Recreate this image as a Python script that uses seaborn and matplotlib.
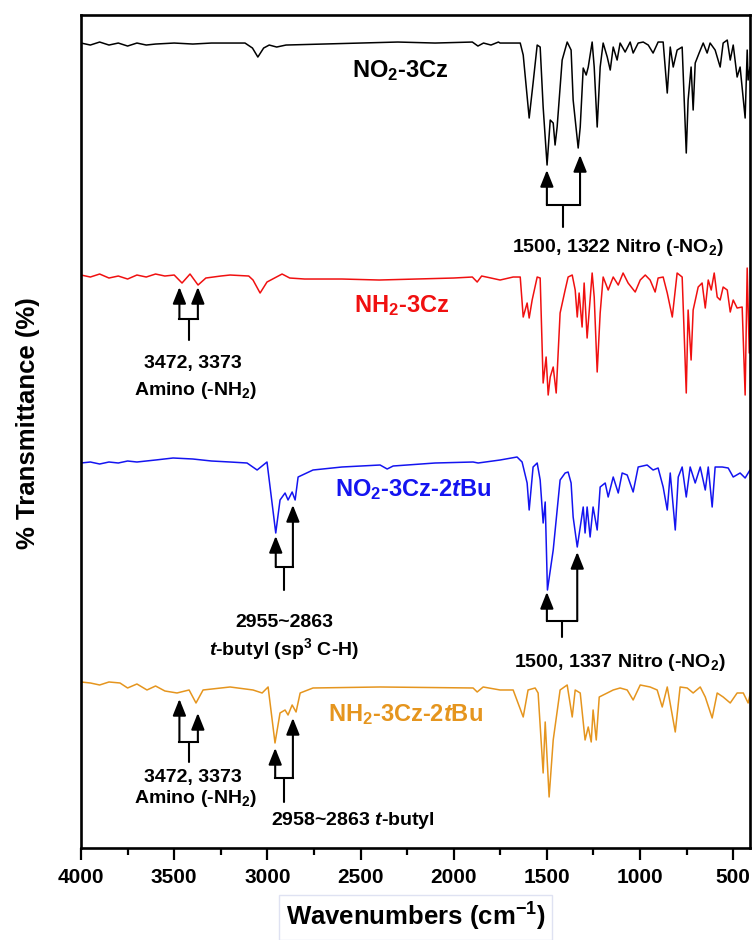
import numpy as np
import pandas as pd
import seaborn as sns
import matplotlib.pyplot as plt

# FTIR spectra (wavenumber cm-1, offset transmittance a.u.)
wn_no2 = [4000, 3950, 3900, 3850, 3800, 3750, 3700, 3650, 3600, 3500, 3400, 3300, 3200, 3120, 3080, 3051,
          3020, 2990, 2950, 2900, 2700, 2500, 2300, 2100, 1900, 1870, 1840, 1800, 1760, 1751, 1643, 1627,
          1595, 1574, 1552, 1536, 1520, 1499, 1482, 1466, 1456, 1445, 1418, 1391, 1370, 1359, 1332, 1321,
          1305, 1289, 1278, 1257, 1246, 1230, 1214, 1198, 1176, 1160, 1144, 1123, 1107, 1080, 1053, 1037,
          1010, 983, 956, 930, 903, 876, 854, 838, 822, 801, 774, 752, 742, 726, 715, 704, 683, 661, 640,
          624, 597, 570, 554, 532, 516, 500, 479, 463, 436, 425, 420, 410]
t_no2 = [805, 803, 806, 803, 805, 802, 805, 803, 804, 805, 804, 805, 805, 805, 800, 791,
         800, 803, 801, 803, 804, 805, 806, 805, 806, 802, 805, 803, 806, 805, 805, 793,
         730, 765, 803, 801, 741, 683, 728, 725, 703, 721, 788, 806, 798, 748, 700, 721,
         780, 773, 781, 806, 781, 721, 781, 805, 791, 778, 801, 788, 805, 796, 806, 795,
         805, 806, 803, 795, 806, 806, 755, 801, 781, 798, 801, 695, 748, 781, 738, 785, 795, 805, 795,
         805, 798, 781, 805, 808, 788, 803, 771, 781, 730, 798, 768, 781]

wn_nh2 = [4000, 3950, 3900, 3850, 3800, 3750, 3700, 3650, 3600, 3550, 3500, 3458, 3415, 3372, 3330, 3250,
          3200, 3100, 3077, 3039, 3002, 2921, 2880, 2800, 2600, 2400, 2200, 2000, 1900, 1874, 1850, 1800,
          1751, 1681, 1643, 1627, 1606, 1595, 1579, 1552, 1536, 1520, 1504, 1493, 1482, 1466, 1450, 1429,
          1402, 1386, 1364, 1348, 1337, 1327, 1311, 1300, 1284, 1257, 1246, 1230, 1214, 1198, 1171, 1144,
          1117, 1091, 1064, 1026, 999, 972, 946, 919, 903, 876, 854, 827, 801, 774, 752, 742, 726, 715,
          688, 667, 650, 634, 618, 602, 586, 570, 554, 532, 516, 500, 479, 452, 436, 425, 414, 404]
t_nh2 = [573, 571, 574, 570, 572, 569, 573, 571, 574, 572, 573, 565, 574, 563, 570, 572,
         573, 572, 568, 555, 566, 574, 570, 569, 569, 568, 569, 570, 571, 566, 572, 570,
         568, 571, 571, 531, 545, 530, 548, 571, 570, 465, 491, 453, 471, 481, 455, 535,
         558, 571, 573, 558, 531, 555, 521, 565, 510, 575, 551, 476, 535, 571, 558, 571,
         563, 575, 565, 556, 568, 573, 568, 556, 570, 571, 555, 531, 575, 571, 455, 538, 488, 538,
         561, 565, 540, 568, 558, 575, 551, 548, 561, 558, 536, 548, 540, 541, 453, 580, 495, 558]

wn_no2_tbu = [4000, 3950, 3900, 3850, 3800, 3750, 3700, 3600, 3506, 3400, 3300, 3200, 3109, 3055, 3002,
              2955, 2932, 2905, 2889, 2867, 2851, 2835, 2755, 2600, 2395, 2357, 2325, 2100, 1896, 1869,
              1751, 1660, 1633, 1606, 1595, 1574, 1552, 1536, 1520, 1509, 1497, 1466, 1429, 1402, 1386,
              1370, 1359, 1337, 1321, 1305, 1295, 1284, 1268, 1252, 1230, 1214, 1187, 1171, 1144, 1117,
              1096, 1069, 1037, 1010, 962, 930, 903, 876, 854, 838, 811, 795, 774, 752, 731, 704, 677,
              650, 634, 613, 597, 559, 527, 500, 463, 436, 410]
t_no2_tbu = [385, 386, 384, 386, 385, 387, 386, 388, 390, 389, 387, 386, 385, 378, 386,
             315, 348, 355, 348, 356, 348, 371, 378, 381, 383, 379, 382, 385, 386, 385,
             388, 391, 386, 365, 338, 381, 385, 368, 325, 346, 258, 298, 368, 375, 376,
             365, 331, 301, 321, 341, 315, 341, 311, 341, 318, 361, 365, 351, 371, 355,
             375, 373, 356, 381, 383, 378, 380, 361, 338, 375, 318, 371, 381, 351, 381, 365, 381,
             358, 381, 341, 381, 381, 380, 371, 375, 370, 378]

wn_nh2_tbu = [4000, 3950, 3900, 3850, 3791, 3750, 3700, 3646, 3600, 3550, 3485, 3420, 3383, 3345, 3200,
              3077, 3028, 2996, 2959, 2932, 2905, 2889, 2867, 2846, 2824, 2755, 2395, 1896, 1874, 1842,
              1751, 1681, 1627, 1601, 1563, 1547, 1520, 1509, 1488, 1466, 1429, 1391, 1364, 1348, 1321,
              1295, 1278, 1262, 1252, 1235, 1219, 1176, 1144, 1107, 1069, 1037, 999, 946, 908, 881,
              854, 811, 785, 747, 715, 677, 650, 613, 586, 554, 516, 479, 446, 420, 404]
t_nh2_tbu = [166, 165, 163, 166, 165, 160, 164, 158, 162, 157, 155, 158, 145, 158, 161,
             158, 155, 161, 105, 135, 138, 133, 143, 136, 155, 160, 161, 160, 156, 161,
             158, 158, 131, 158, 160, 155, 75, 126, 51, 108, 158, 163, 131, 158, 155,
             108, 121, 106, 138, 108, 151, 155, 158, 160, 158, 148, 163, 161, 158, 141,
             161, 116, 161, 160, 155, 161, 151, 130, 155, 151, 145, 155, 155, 145, 158]

samples = ['NO$_2$-3Cz', 'NH$_2$-3Cz', 'NO$_2$-3Cz-2$t$Bu', 'NH$_2$-3Cz-2$t$Bu']
colors = ['#000000', '#f01010', '#1414f0', '#e5951e']

sns.set_style('ticks')
plt.rcParams['font.family'] = ['Liberation Sans', 'DejaVu Sans']
plt.rcParams['font.weight'] = 'bold'
plt.rcParams['axes.labelweight'] = 'bold'
plt.rcParams['axes.edgecolor'] = 'black'
plt.rcParams['axes.labelcolor'] = 'black'
plt.rcParams['xtick.color'] = 'black'
plt.rcParams['text.color'] = 'black'
plt.rcParams['mathtext.fontset'] = 'custom'
plt.rcParams['mathtext.rm'] = 'Liberation Sans:bold'
plt.rcParams['mathtext.it'] = 'Liberation Sans:bold:italic'
plt.rcParams['mathtext.bf'] = 'Liberation Sans:bold'

frames = []
for name, w, t in zip(samples, [wn_no2, wn_nh2, wn_no2_tbu, wn_nh2_tbu],
                      [t_no2, t_nh2, t_no2_tbu, t_nh2_tbu]):
    frames.append(pd.DataFrame({'wn': w, 't': t, 'sample': name}))
df = pd.concat(frames, ignore_index=True)

fig = plt.figure(figsize=(7.53, 9.4), dpi=100)
ax = fig.add_axes([0.1076, 0.0979, 0.996 - 0.1076, 0.984 - 0.0979])
sns.lineplot(data=df, x='wn', y='t', hue='sample', palette=dict(zip(samples, colors)),
             estimator=None, sort=False, legend=False, lw=1.1, ax=ax)

ax.set_xlim(4000, 410)
ax.set_ylim(0, 833)
ax.set_xticks([4000, 3500, 3000, 2500, 2000, 1500, 1000, 500])
ax.set_xticks(np.arange(3750, 400, -500), minor=True)
ax.set_yticks([])
ax.tick_params(axis='x', which='major', direction='out', length=8.5, width=1.6, labelsize=15, pad=6,
               colors='black')
ax.tick_params(axis='x', which='minor', direction='out', length=5, width=1.6, colors='black')
for lab in ax.get_xticklabels():
    lab.set_fontweight('bold')
for s in ax.spines.values():
    s.set_linewidth(1.9)
    s.set_color('black')

ax.set_xlabel('Wavenumbers (cm$^{-1}$)', fontsize=18.5, color='black',
              bbox=dict(boxstyle='square,pad=0.25', fc='white', ec='#dfe2f2', lw=1))
ax.xaxis.set_label_coords(0.5, -0.064)
ax.set_ylabel('% Transmittance (%)', fontsize=18.5, color='black')
ax.yaxis.set_label_coords(-0.062, 0.51)

# sample names
name_pos = [(2288, 771), (2277, 536), (2218, 352), (2261, 127)]
for name, c, (x, y) in zip(samples, colors, name_pos):
    ax.text(x, y, name, color=c, fontsize=17, ha='center', va='baseline')

# peak brackets: (peak1, peak2, tip1, tip2, bar y, stem end)
brackets = [(1500, 1322, 678, 693, 643, 621),
            (3472, 3373, 561, 561, 529, 508),
            (2955, 2863, 312, 343, 281, 258),
            (1500, 1337, 256, 296, 227, 211),
            (3472, 3373, 149, 135, 106, 86),
            (2958, 2863, 100, 130, 70, 46)]
for p1, p2, y1, y2, yb, ys in brackets:
    for p, yt in [(p1, y1), (p2, y2)]:
        ax.annotate('', xy=(p, yt), xytext=(p, yb),
                    arrowprops=dict(arrowstyle='-|>,head_length=0.5,head_width=0.2', color='k',
                                    lw=1.5, mutation_scale=20, shrinkA=0, shrinkB=0))
    ax.plot([p1, p2], [yb, yb], color='k', lw=1.5, solid_capstyle='projecting')
    ax.plot([(p1 + p2) / 2] * 2, [yb, ys], color='k', lw=1.5)

notes = [(1117, 596, '1500, 1322 Nitro (-NO$_2$)'),
         (3399, 480, '3472, 3373'),
         (3385, 453, 'Amino (-NH$_2$)'),
         (2910, 221, '2955~2863'),
         (2910, 193, '$t$-butyl (sp$^3$ C-H)'),
         (1107, 181, '1500, 1337 Nitro (-NO$_2$)'),
         (3399, 66, '3472, 3373'),
         (3388, 45, 'Amino (-NH$_2$)'),
         (2540, 23, '2958~2863 $t$-butyl')]
for x, y, s in notes:
    ax.text(x, y, s, fontsize=14, ha='center', va='baseline', color='k')

fig.savefig('out.png', dpi=100)
